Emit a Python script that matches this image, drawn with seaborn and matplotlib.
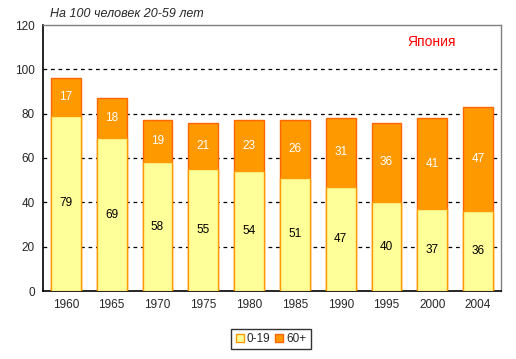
import matplotlib
matplotlib.use("Agg")
import matplotlib.pyplot as plt
import seaborn as sns
import pandas as pd
import numpy as np
from matplotlib.patches import Patch

years = ["1960", "1965", "1970", "1975", "1980", "1985", "1990", "1995", "2000", "2004"]
young = [79, 69, 58, 55, 54, 51, 47, 40, 37, 36]
old = [17, 18, 19, 21, 23, 26, 31, 36, 41, 47]

sns.set_style("white")
plt.rcParams['font.family'] = ['Liberation Sans', 'DejaVu Sans']

fig = plt.figure(figsize=(5.16, 3.59), dpi=100)
ax = fig.add_axes([43/516, 1 - 291/359, (501-43)/516, (291-25)/359])

df = pd.DataFrame({"year": years, "young": young, "total": np.array(young) + np.array(old)})
W = 0.65
sns.barplot(data=df, x="year", y="total", color="#FF9900", edgecolor="#FF6600", linewidth=1.0,
            width=W, ax=ax, saturation=1, zorder=3)
sns.barplot(data=df, x="year", y="young", color="#FFFF99", edgecolor="#FF9900", linewidth=1.0,
            width=W, ax=ax, saturation=1, zorder=4)

for i in range(len(years)):
    ax.text(i, young[i] / 2, str(young[i]), ha="center", va="center", fontsize=8.5, color="black", zorder=5)
    ax.text(i, young[i] + old[i] / 2, str(old[i]), ha="center", va="center", fontsize=8.5, color="white", zorder=5)

ax.set_ylim(0, 120)
ax.set_xlim(-0.5, len(years) - 0.5)
ax.set_yticks(range(0, 121, 20))
ax.set_xlabel("")
ax.set_ylabel("")
ax.tick_params(axis="both", labelsize=8.5, length=0, pad=6)
for y in range(20, 120, 20):
    ax.axhline(y, color="black", linestyle=(0, (3, 3)), linewidth=0.9, zorder=1)
for s in ["top", "right"]:
    ax.spines[s].set_color("#808080")
    ax.spines[s].set_linewidth(1.0)
for s in ["left", "bottom"]:
    ax.spines[s].set_color("black")
    ax.spines[s].set_linewidth(1.2)

fig.text(50/516, 1 - 14/359, "На 100 человек 20-59 лет", fontsize=9, style="italic", ha="left", va="center")
ax.text((432-43)/458, (291-42)/266, "Япония", transform=ax.transAxes, fontsize=10, color="red", ha="center", va="center")

handles = [Patch(facecolor="#FFFF99", edgecolor="#FF9900", label="0-19"),
           Patch(facecolor="#FF9900", edgecolor="#FF6600", label="60+")]
leg = fig.legend(handles=handles, loc="center", bbox_to_anchor=(271/516, 1 - 339/359), ncol=2,
                 fontsize=8.5, frameon=True, fancybox=False, edgecolor="black",
                 handlelength=0.7, handleheight=0.7, handletextpad=0.25, columnspacing=0.4,
                 borderpad=0.35, borderaxespad=0)
leg.get_frame().set_linewidth(1.0)

fig.savefig("out.png", dpi=100)
